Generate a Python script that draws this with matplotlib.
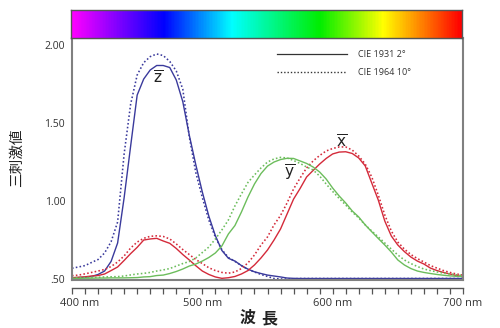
import matplotlib
matplotlib.use("Agg")
import matplotlib.pyplot as plt
import matplotlib.transforms as mtransforms
from matplotlib.colors import LinearSegmentedColormap
from matplotlib.lines import Line2D
import numpy as np

# wavelength grid, 5 nm steps
wl = list(range(400, 705, 5))

z1931 = [0.505, 0.506, 0.508, 0.513, 0.526, 0.548, 0.61, 0.728, 1.019, 1.351,
         1.678, 1.781, 1.839, 1.868, 1.868, 1.855, 1.775, 1.636, 1.42, 1.23,
         1.055, 0.90, 0.775, 0.68, 0.63, 0.612, 0.583, 0.56, 0.543, 0.532,
         0.522, 0.516, 0.51, 0.503, 0.501, 0.50, 0.50, 0.50, 0.50, 0.50,
         0.50, 0.50, 0.50, 0.50, 0.50, 0.50, 0.50, 0.50, 0.50, 0.50,
         0.50, 0.50, 0.50, 0.50, 0.50, 0.50, 0.50, 0.50, 0.50, 0.50, 0.50]
z1964 = [0.566, 0.574, 0.583, 0.603, 0.622, 0.664, 0.736, 0.863, 1.30, 1.62,
         1.807, 1.886, 1.925, 1.942, 1.932, 1.894, 1.833, 1.716, 1.41, 1.18,
         1.02, 0.875, 0.765, 0.685, 0.635, 0.61, 0.583, 0.558, 0.542, 0.526,
         0.513, 0.50, 0.497, 0.497, 0.498, 0.50, 0.50, 0.50, 0.50, 0.50,
         0.50, 0.50, 0.50, 0.50, 0.50, 0.50, 0.50, 0.50, 0.50, 0.50,
         0.50, 0.50, 0.50, 0.50, 0.50, 0.50, 0.50, 0.50, 0.50, 0.50, 0.50]
x1931 = [0.505, 0.508, 0.511, 0.516, 0.519, 0.529, 0.551, 0.574, 0.616, 0.66,
         0.70, 0.747, 0.754, 0.758, 0.741, 0.726, 0.693, 0.654, 0.619, 0.582,
         0.548, 0.526, 0.51, 0.501, 0.505, 0.513, 0.529, 0.551, 0.587, 0.632,
         0.683, 0.747, 0.818, 0.914, 1.01, 1.078, 1.152, 1.194, 1.235, 1.271,
         1.30, 1.312, 1.314, 1.303, 1.274, 1.223, 1.113, 1.004, 0.869, 0.773,
         0.715, 0.673, 0.638, 0.612, 0.593, 0.567, 0.551, 0.539, 0.529, 0.519, 0.512]
x1964 = [0.518, 0.522, 0.53, 0.539, 0.548, 0.558, 0.577, 0.606, 0.645, 0.696,
         0.734, 0.758, 0.771, 0.774, 0.77, 0.754, 0.722, 0.686, 0.654, 0.622,
         0.596, 0.569, 0.551, 0.539, 0.534, 0.542, 0.564, 0.60, 0.651, 0.715,
         0.767, 0.844, 0.905, 0.985, 1.075, 1.145, 1.21, 1.255, 1.29, 1.319,
         1.335, 1.345, 1.345, 1.325, 1.287, 1.235, 1.152, 1.036, 0.908, 0.805,
         0.734, 0.689, 0.654, 0.628, 0.606, 0.583, 0.567, 0.551, 0.539, 0.529, 0.522]
y1931 = [0.501, 0.501, 0.502, 0.502, 0.503, 0.503, 0.504, 0.504, 0.504, 0.505,
         0.506, 0.51, 0.512, 0.519, 0.522, 0.532, 0.545, 0.561, 0.58, 0.593,
         0.612, 0.635, 0.664, 0.709, 0.786, 0.84, 0.927, 1.023, 1.107, 1.174,
         1.222, 1.248, 1.264, 1.272, 1.271, 1.255, 1.239, 1.216, 1.184, 1.139,
         1.081, 1.03, 0.985, 0.934, 0.895, 0.844, 0.80, 0.757, 0.715, 0.67,
         0.619, 0.587, 0.564, 0.548, 0.539, 0.532, 0.526, 0.521, 0.517, 0.514, 0.512]
y1964 = [0.505, 0.506, 0.506, 0.508, 0.508, 0.51, 0.511, 0.512, 0.516, 0.523,
         0.529, 0.533, 0.539, 0.548, 0.555, 0.564, 0.58, 0.596, 0.609, 0.632,
         0.667, 0.702, 0.754, 0.812, 0.876, 0.966, 1.043, 1.117, 1.165, 1.21,
         1.248, 1.268, 1.278, 1.274, 1.258, 1.239, 1.216, 1.197, 1.158, 1.107,
         1.059, 1.014, 0.972, 0.927, 0.889, 0.844, 0.805, 0.767, 0.728, 0.689,
         0.651, 0.619, 0.596, 0.577, 0.561, 0.551, 0.542, 0.535, 0.529, 0.524, 0.52]

yticks = [0.5, 1.0, 1.5, 2.0]
ytick_labels = [".50", "1.00", "1.50", "2.00"]
xticks = [400, 500, 600, 700]
xtick_labels = ["400 nm", "500 nm", "600 nm", "700 nm"]

spectrum = [(0.0, "#ff00ff"), (0.236, "#0000ff"), (0.412, "#00ffff"),
            (0.638, "#00ee00"), (0.80, "#ffff00"), (1.0, "#ff0000")]

BLUE = "#3a3a9c"
RED = "#d42a3a"
GREEN = "#6cbd5c"
GRAY = "#808080"
dotted = (0, (1, 1.4))

plt.rcParams['font.family'] = ['Open Sans', 'Noto Sans CJK JP', 'DejaVu Sans']

fig = plt.figure(figsize=(5, 3.28), dpi=100)
W, H = 500.0, 328.0
L, R = 72, 463

ax = fig.add_axes([L / W, (H - 280) / H, (R - L) / W, (280 - 38) / H])
ax.plot(wl, z1931, color=BLUE, lw=1.0)
ax.plot(wl, z1964, color=BLUE, lw=1.15, ls=dotted)
ax.plot(wl, x1931, color=RED, lw=1.0)
ax.plot(wl, x1964, color=RED, lw=1.15, ls=dotted)
ax.plot(wl, y1931, color=GREEN, lw=1.0)
ax.plot(wl, y1964, color=GREEN, lw=1.15, ls=dotted)

ax.set_xlim(400, 700)
ax.set_ylim(0.4904, 2.0446)
ax.set_xticks([])
ax.set_yticks(yticks)
ax.set_yticklabels(ytick_labels)
ax.tick_params(axis='y', length=0, pad=5, labelsize=7.5, labelcolor="#333333")
for s in ax.spines.values():
    s.set_color(GRAY)
    s.set_linewidth(1.5)

ax.text(466, 1.78, r'$\overline{\mathsf{z}}$', fontsize=11, ha='center', va='center', color="#222222")
ax.text(567, 1.175, r'$\overline{\mathsf{y}}$', fontsize=11, ha='center', va='center', color="#222222")
ax.text(607, 1.37, r'$\overline{\mathsf{x}}$', fontsize=11, ha='center', va='center', color="#222222")

handles = [Line2D([], [], color="#333333", lw=0.9),
           Line2D([], [], color="#333333", lw=1.0, ls=dotted)]
ax.legend(handles, ["CIE 1931 2°", "CIE 1964 10°"], loc='upper left',
          bbox_to_anchor=(0.524, 0.95), frameon=False, fontsize=6.5,
          handlelength=7.8, handletextpad=1.2, labelspacing=1.0,
          borderpad=0, borderaxespad=0, labelcolor="#333333")

# separate wavelength axis below the frame
axx = fig.add_axes([L / W, (H - 288) / H, (R - L) / W, 0.0001])
axx.set_xlim(400, 700)
axx.set_yticks([])
for k in ['top', 'left', 'right']:
    axx.spines[k].set_visible(False)
axx.spines['bottom'].set_color("#555555")
axx.spines['bottom'].set_linewidth(1.0)
axx.set_xticks(xticks)
axx.set_xticklabels(xtick_labels)
axx.set_xticks(list(range(400, 701, 10)), minor=True)
axx.tick_params(axis='x', which='both', direction='out', length=4, width=0.9,
                color="#555555", pad=3, labelsize=8, labelcolor="#333333")
lab0 = axx.get_xticklabels()[0]
lab0.set_transform(lab0.get_transform() + mtransforms.ScaledTranslation(0.08, 0, fig.dpi_scale_trans))

# spectrum bar
axc = fig.add_axes([71 / W, (H - 38) / H, 391 / W, 28 / H])
cmap = LinearSegmentedColormap.from_list("spec", spectrum)
axc.imshow(np.linspace(0, 1, 400)[None, :], aspect='auto', cmap=cmap)
axc.set_xticks([])
axc.set_yticks([])
for s in axc.spines.values():
    s.set_color("#555555")
    s.set_linewidth(1.0)

cjk = ['Noto Sans CJK JP', 'DejaVu Sans']
fig.text(17 / W, (H - 158) / H, "三刺激値", rotation=90, ha='center', va='center',
         fontsize=10.5, color="#222222", family=cjk)
fig.text(248 / W, (H - 318) / H, "波", ha='center', va='center', fontsize=11.5,
         fontweight='bold', color="#222222", family=cjk)
fig.text(269.5 / W, (H - 318) / H, "長", ha='center', va='center', fontsize=11.5,
         fontweight='bold', color="#222222", family=cjk)

fig.savefig("out.png", dpi=100)
